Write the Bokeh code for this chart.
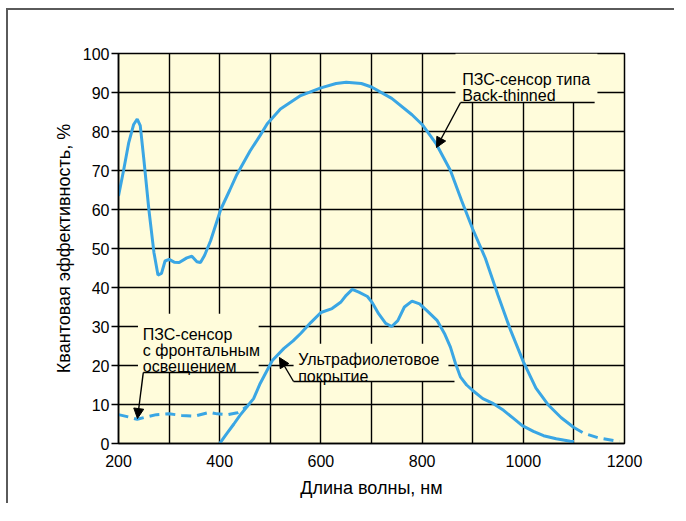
from bokeh.plotting import figure
from bokeh.models import FixedTicker, Label, Arrow, NormalHead
from bokeh.embed import file_html
from bokeh.resources import INLINE

# ---- data (wavelength nm, quantum efficiency %) ----
back_nm = [200, 210, 220, 230, 237, 243, 250, 260, 270, 278, 285, 292, 300, 310, 320,
           335, 345, 355, 362, 370, 382, 402, 420, 434, 460, 480, 494, 520, 560, 600,
           630, 650, 680, 700, 740, 780, 800, 828, 856, 878, 900, 925, 950, 975, 1000,
           1025, 1050, 1075, 1100]
back_qe = [63.5, 70, 77, 81.8, 83.2, 81.5, 73, 60, 49, 43.2, 43.6, 46.8, 47.2, 46.5, 46.4,
           47.6, 48, 46.6, 46.4, 48.2, 52, 60, 65, 69, 75, 79, 82, 85.8, 89.2, 91.2,
           92.3, 92.6, 92.3, 91.4, 88.5, 84.3, 81.8, 76.8, 70, 62.3, 55, 47.5, 38, 29, 21,
           14.2, 9.8, 6.6, 4.1]
back_tail_nm = [1100, 1120, 1150, 1190]
back_tail_qe = [4.1, 2.6, 1.4, 0.5]

front_nm = [200, 220, 237, 255, 275, 300, 325, 350, 365, 380, 395, 415, 435, 455]
front_qe = [7.4, 6.8, 6.2, 6.8, 7.4, 7.6, 7.2, 7.0, 7.5, 8.0, 7.6, 7.4, 7.9, 9.6]

uv_nm = [400, 415, 428, 440, 455, 467, 480, 504, 527, 545, 560, 580, 600, 622, 639,
         650, 662, 675, 692, 701, 714, 728, 740, 752, 765, 780, 795, 810, 830, 845,
         856, 866, 876, 888, 900, 920, 941, 961, 980, 998, 1020, 1040, 1065, 1093, 1100]
uv_qe = [0, 2.7, 5, 7.2, 9.6, 11.5, 15.4, 21.3, 24.4, 26.3, 28.2, 31, 33.6, 34.6, 36.2,
         38, 39.5, 38.8, 37.7, 36.2, 33.3, 30.8, 30, 31.5, 35, 36.5, 35.8, 34, 31.5, 28,
         24.7, 20.5, 17, 15, 13.6, 11.5, 10.2, 8.5, 6.5, 4.6, 3.1, 2, 1.2, 0.6, 0.5]

x_ticks = [200, 400, 600, 800, 1000, 1200]
x_minor = [300, 500, 700, 900, 1100]
y_ticks = [0, 10, 20, 30, 40, 50, 60, 70, 80, 90, 100]

FONT = "Liberation Sans"
BG = "#FFFCDB"
BLUE = "#3AA6E4"

p = figure(x_range=(200, 1200), y_range=(0, 100),
           frame_width=506, frame_height=390,
           min_border_left=110, min_border_top=43, min_border_right=50, min_border_bottom=60,
           output_backend="svg", toolbar_location=None,
           background_fill_color=BG, border_fill_color="white")
p.styles = {"border-left": "2px solid #5a5a5a", "border-top": "2px solid #5a5a5a",
            "margin-left": "6px", "margin-top": "8px"}

p.outline_line_color = "black"
p.outline_line_width = 1.5

p.xaxis.ticker = FixedTicker(ticks=x_ticks, minor_ticks=x_minor)
p.yaxis.ticker = FixedTicker(ticks=y_ticks)
for ax in (p.xaxis, p.yaxis):
    ax.axis_line_color = "black"
    ax.axis_line_width = 1.5
    ax.major_label_text_font = FONT
    ax.major_label_text_font_size = "16px"
    ax.major_label_text_color = "black"
    ax.axis_label_text_font = FONT
    ax.axis_label_text_font_size = "18px"
    ax.axis_label_text_font_style = "normal"
    ax.axis_label_text_color = "black"
    ax.minor_tick_line_color = None
p.xaxis.major_tick_line_color = None
p.xaxis.major_label_standoff = 5
p.xaxis.axis_label = "Длина волны, нм"
p.xaxis.axis_label_standoff = 8
p.yaxis.major_tick_out = 7
p.yaxis.major_tick_in = 0
p.yaxis.major_tick_line_color = "black"
p.yaxis.major_tick_line_width = 1.5
p.yaxis.major_label_standoff = 2
p.yaxis.axis_label = "Квантовая эффективность, %"
p.yaxis.axis_label_standoff = 6

p.xgrid.grid_line_color = "black"
p.xgrid.grid_line_width = 1.4
p.xgrid.minor_grid_line_color = "black"
p.xgrid.minor_grid_line_width = 1.4
p.ygrid.grid_line_color = "black"
p.ygrid.grid_line_width = 1.4

# label background boxes (hide grid behind callout text)
box_left = [866, 238.5, 546]
box_right = [1146.5, 477, 852]
box_top = [100, 33.3, 25.6]
box_bottom = [87.4, 18.2, 15.9]
p.quad(left=box_left, right=box_right, top=box_top, bottom=box_bottom,
       fill_color=BG, line_color=None)

# curves
p.line(back_nm, back_qe, line_color=BLUE, line_width=3)
p.line(back_tail_nm, back_tail_qe, line_color=BLUE, line_width=3, line_dash="10 6")
p.line(front_nm, front_qe, line_color=BLUE, line_width=3, line_dash="10 6")
p.line(uv_nm, uv_qe, line_color=BLUE, line_width=3)

# callout underlines
p.segment(x0=[876, 249, 546], y0=[87.44, 18.2, 15.9],
          x1=[1141, 477, 864], y1=[87.44, 18.2, 15.9],
          line_color="black", line_width=1.4)

for xs, ys, xe, ye in [(876, 87.44, 828.5, 75.9), (249, 18.2, 237.5, 6.4), (546, 15.9, 518, 22.05)]:
    p.add_layout(Arrow(end=NormalHead(size=10, fill_color="black", line_color="black", line_width=1),
                       x_start=xs, y_start=ys, x_end=xe, y_end=ye,
                       line_color="black", line_width=1.4))

labels = [
    ("ПЗС-сенсор типа", 879.2, 93.33),
    ("Back-thinned", 879.2, 89.23),
    ("ПЗС-сенсор", 248, 27.95),
    ("с фронтальным", 248, 23.85),
    ("освещением", 248, 19.82),
    ("Ультрафиолетовое", 555.1, 21.46),
    ("покрытие", 555.1, 17.26),
]
for t, x, y in labels:
    p.add_layout(Label(x=x, y=y, text=t, text_font=FONT, text_font_size="16px",
                       text_color="black", text_baseline="alphabetic", text_align="left"))

open("out.html", "w").write(file_html(p, INLINE))
